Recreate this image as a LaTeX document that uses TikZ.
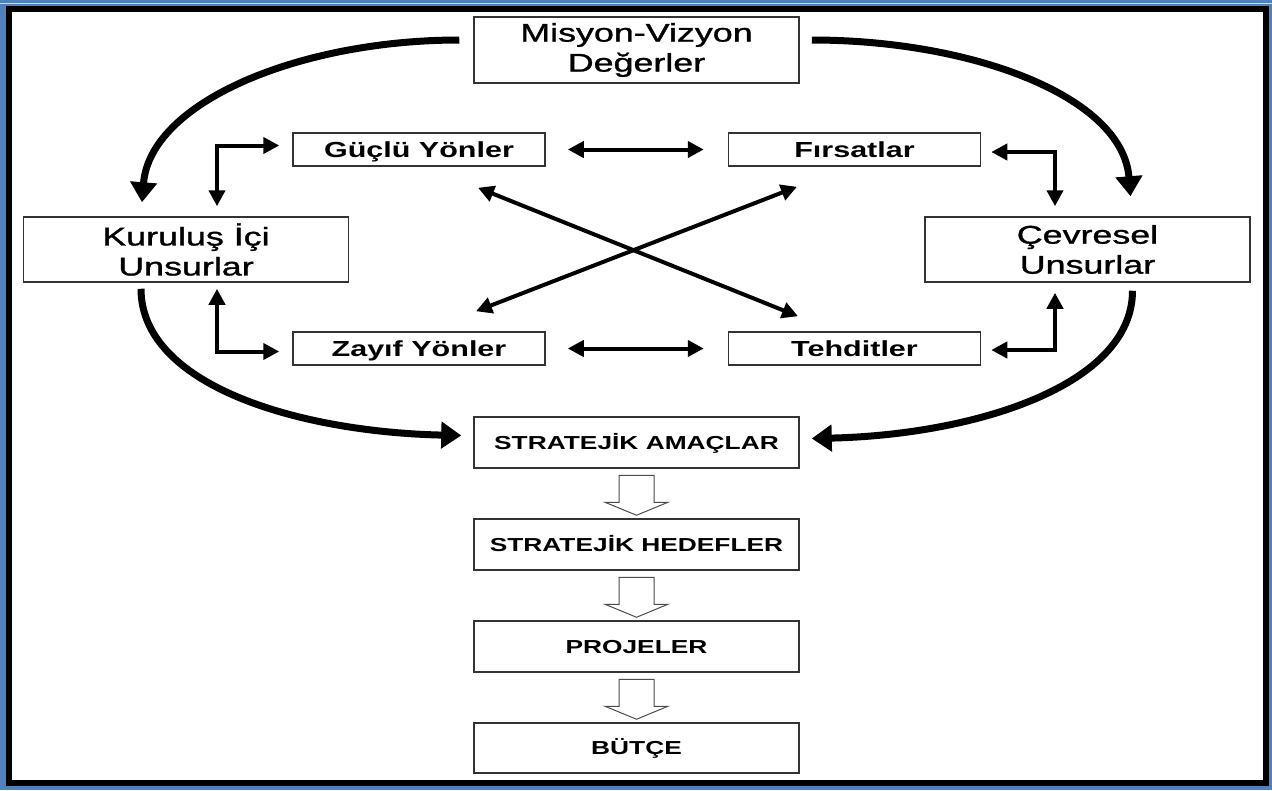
\documentclass[tikz,border=0pt]{standalone}
\usepackage{fontspec}
\setmainfont{Liberation Sans}
\newfontfamily\heavyfont[FakeBold=1]{Liberation Sans}
\usepackage{graphicx}
\usetikzlibrary{arrows.meta}
\definecolor{frameblue}{RGB}{79,129,189}
\definecolor{frameyellow}{RGB}{235,225,130}
\newcommand{\wide}[1]{\scalebox{1.4}[1]{#1}}

\begin{document}
\begin{tikzpicture}[x=1pt,y=-1pt,
    box/.style={draw=black!80,line width=1.5pt,fill=white,inner sep=0pt,align=center},
    bigbox/.style={box,minimum width=325pt,minimum height=65pt,font=\heavyfont\fontsize{25.6}{30}\selectfont},
    swotbox/.style={box,minimum width=252pt,minimum height=33pt,text height=15.6pt,text depth=0pt,font=\fontsize{21.8}{26}\selectfont\bfseries},
    planbox/.style={box,minimum width=325pt,minimum height=51pt,text height=13.5pt,text depth=0pt,font=\fontsize{18.8}{22}\selectfont\bfseries},
    bigarrow/.style={line width=7pt,>={Triangle[length=20pt,width=26pt]},->},
    smallarrow/.style={line width=4pt,>={Triangle[length=16pt,width=16pt]}},
    hollow/.style={draw=black!70,line width=1pt,fill=white}]
    \useasboundingbox (0,0) rectangle (1272,790);
    % frame
    \fill[frameblue] (0,0) rectangle (1272,790);
    \draw[frameyellow,line width=1pt] (0,3) -- (1272,3);
    \draw[line width=6pt,fill=white] (9,8.5) rectangle (1265.5,783);

    \node[bigbox,minimum height=66pt] (mv) at (636.5,50) {\wide{Misyon-Vizyon}\\\wide{Değerler}};
    \node[bigbox] (kur) at (186,249.5) {\wide{Kuruluş İçi}\\\wide{Unsurlar}};
    \node[bigbox] (cev) at (1087.5,249.5) {\wide{Çevresel}\\\wide{Unsurlar}};

    \node[swotbox] (gy) at (419,149.5) {\wide{Güçlü Yönler}};
    \node[swotbox] (fr) at (854.5,149.5) {\wide{Fırsatlar}};
    \node[swotbox] (zy) at (419,348.5) {\wide{Zayıf Yönler}};
    \node[swotbox] (th) at (854.5,348.5) {\wide{Tehditler}};

    \node[planbox] (sa) at (636.5,442.5) {\wide{STRATEJİK AMAÇLAR}};
    \node[planbox] (sh) at (636.5,544.5) {\wide{STRATEJİK HEDEFLER}};
    \node[planbox] (pr) at (636.5,646.5) {\wide{PROJELER}};
    \node[planbox,minimum height=50pt] (bt) at (636.5,748) {\wide{BÜTÇE}};

    % curved arrows
    \draw[bigarrow] ([xshift=-14pt,yshift=10pt]mv.west) .. controls +(-160,0) and +(8,-100) .. ([xshift=-44pt,yshift=14pt]kur.north);
    \draw[bigarrow] ([xshift=12pt,yshift=10pt]mv.east) .. controls +(160,0) and +(-8,-100) .. ([xshift=43pt,yshift=20pt]cev.north);
    \draw[bigarrow] ([xshift=-45pt,yshift=-6pt]kur.south) .. controls +(0,97) and +(-162,-3.5) .. ([xshift=-12pt,yshift=7pt]sa.west);
    \draw[bigarrow] ([xshift=45pt,yshift=-8pt]cev.south) .. controls +(0,95) and +(162,-3.5) .. ([xshift=12pt,yshift=4pt]sa.east);

    % swot arrows
    \draw[smallarrow,<->] ([xshift=22pt]gy.east) -- ([xshift=-24pt]fr.west);
    \draw[smallarrow,<->] ([xshift=22pt]zy.east) -- ([xshift=-24pt]th.west);
    \draw[smallarrow,<->] ([xshift=59pt,yshift=-21pt]gy.south) -- ([xshift=-56.5pt,yshift=15pt]th.north);
    \draw[smallarrow,<->] ([xshift=-57.5pt,yshift=-20pt]fr.south) -- ([xshift=57pt,yshift=20pt]zy.north);
    \draw[smallarrow,<->] ([xshift=-13pt,yshift=4pt]gy.west) -| ([xshift=31pt,yshift=10pt]kur.north);
    \draw[smallarrow,<->] ([xshift=31pt,yshift=-6pt]kur.south) |- ([xshift=-13pt,yshift=-3pt]zy.west);
    \draw[smallarrow,<->] ([xshift=10pt,yshift=-2.5pt]fr.east) -| ([xshift=-32.5pt,yshift=10pt]cev.north);
    \draw[smallarrow,<->] ([xshift=-32.5pt,yshift=-10pt]cev.south) |- ([xshift=10pt,yshift=-1.5pt]th.east);

    % hollow arrows
    \foreach \a in {sa,sh,pr}
      \draw[hollow] ([xshift=-17.5pt,yshift=-6.5pt]\a.south) -- ++(35,0) -- ++(0,27) -- ++(14,0) -- ++(-31.5,13) -- ++(-31.5,-13) -- ++(14,0) -- cycle;
\end{tikzpicture}
\end{document}
